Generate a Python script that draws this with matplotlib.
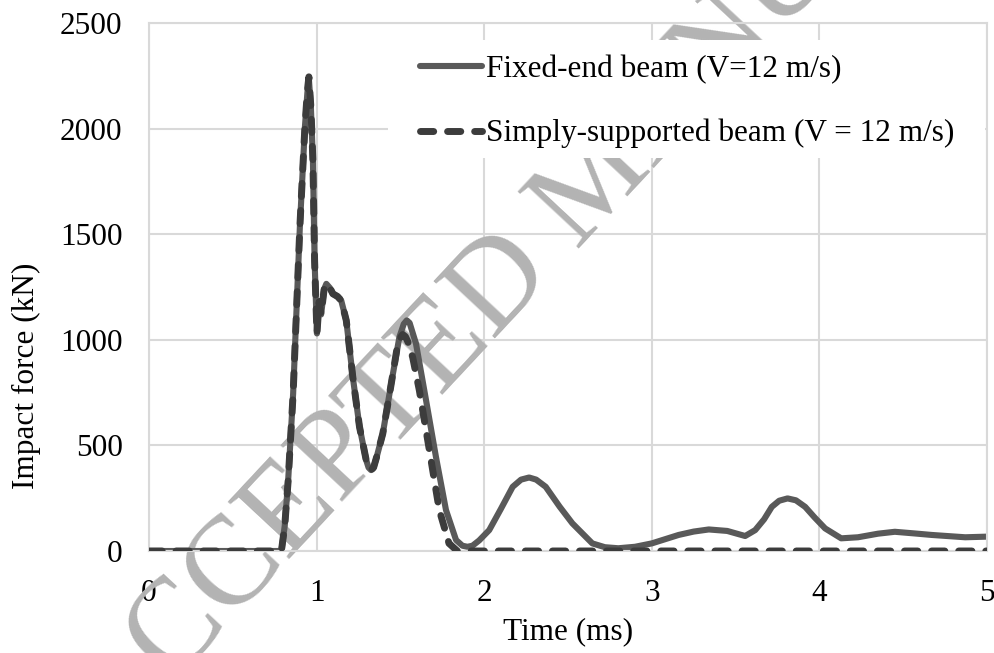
import matplotlib
matplotlib.use("Agg")
import matplotlib.pyplot as plt
from matplotlib.patches import Rectangle
from matplotlib.transforms import IdentityTransform

# Impact force histories (time in ms, force in kN)
t_fixed = [0.0, 0.79, 0.81, 0.83, 0.86, 0.90, 0.93, 0.945, 0.954, 0.966, 0.978,
           0.988, 1.002, 1.015, 1.027, 1.045, 1.058, 1.08, 1.097, 1.125, 1.147,
           1.177, 1.216, 1.256, 1.296, 1.31, 1.325, 1.34, 1.36, 1.395, 1.445,
           1.494, 1.52, 1.538, 1.555, 1.593, 1.653, 1.712, 1.772, 1.832, 1.87,
           1.90, 1.93, 1.97, 2.03, 2.10, 2.17, 2.22, 2.268, 2.31, 2.367, 2.45,
           2.526, 2.645, 2.72, 2.80, 2.90, 3.00, 3.16, 3.25, 3.34, 3.45, 3.557,
           3.617, 3.67, 3.716, 3.76, 3.81, 3.86, 3.915, 3.97, 4.034, 4.13, 4.23,
           4.35, 4.45, 4.57, 4.67, 4.87, 5.0]
f_fixed = [0, 0, 120, 330, 745, 1533, 2005, 2170, 2235, 2100, 1848,
           1375, 1030, 1180, 1120, 1240, 1265, 1245, 1218, 1205, 1186,
           1092, 824, 588, 430, 395, 383, 395, 450, 556, 792,
           1013, 1075, 1092, 1080, 982, 714, 446, 194, 52, 25,
           20, 25, 50, 99, 200, 304, 338, 348, 338, 304, 210,
           131, 36, 18, 13, 20, 36, 76, 92, 102, 95, 71,
           99, 150, 209, 238, 249, 240, 209, 160, 107, 60, 65,
           82, 91, 83, 76, 65, 68]

t_simple = [0.0, 0.79, 0.81, 0.83, 0.86, 0.90, 0.93, 0.945, 0.954, 0.966, 0.978,
            0.988, 1.002, 1.015, 1.027, 1.045, 1.058, 1.08, 1.097, 1.125, 1.147,
            1.177, 1.216, 1.256, 1.296, 1.31, 1.325, 1.34, 1.36, 1.395, 1.445,
            1.48, 1.50, 1.514, 1.53, 1.545, 1.573, 1.613, 1.673, 1.732, 1.79,
            1.84, 5.0]
f_simple = [0, 0, 120, 330, 745, 1533, 2005, 2180, 2245, 2100, 1848,
            1375, 1030, 1180, 1120, 1240, 1265, 1245, 1218, 1205, 1186,
            1092, 824, 588, 430, 395, 383, 395, 450, 556, 790,
            960, 1010, 1025, 1015, 990, 918, 761, 477, 194, 36,
            0, 0]

labels = ["Fixed-end beam (V=12 m/s)", "Simply-supported beam (V = 12 m/s)"]
x_ticks = [0, 1, 2, 3, 4, 5]
y_ticks = [0, 500, 1000, 1500, 2000, 2500]

plt.rcParams["font.family"] = ["Liberation Serif", "DejaVu Serif"]
FS = 22.5

fig = plt.figure(figsize=(9.95, 6.53), dpi=100)
ax = fig.add_axes([149 / 995, 1 - 551 / 653, (987 - 149) / 995, (551 - 23) / 653])

grid_c = "#d9d9d9"
ax.set_xlim(0, 5)
ax.set_ylim(0, 2500)
ax.set_xticks(x_ticks)
ax.set_yticks(y_ticks)
ax.set_xticklabels([str(v) for v in x_ticks], fontsize=FS)
ax.set_yticklabels([str(v) for v in y_ticks], fontsize=FS)
ax.tick_params(axis="x", length=0, pad=20)
ax.tick_params(axis="y", length=0, pad=19)
ax.grid(True, color=grid_c, linewidth=1.5)
ax.set_axisbelow(True)
for side, sp in ax.spines.items():
    sp.set_color(grid_c)
    sp.set_linewidth(1.5)

ax.set_xlabel("Time (ms)", fontsize=FS, labelpad=7)
ax.set_ylabel("Impact force (kN)", fontsize=FS)
ax.yaxis.set_label_coords(-0.129, 0.331)

# Watermark across the figure, under the curves and legend
ax.text(110, -98, "ACCEPTED MANUSCRIPT", transform=IdentityTransform(),
        rotation=47, rotation_mode="anchor", ha="left", va="baseline",
        fontsize=91, color="#b3b3b3", zorder=1.5, clip_on=False)

l1, = ax.plot(t_fixed, f_fixed, color="#595959", lw=4.4,
              solid_joinstyle="round", solid_capstyle="round", zorder=2.5,
              label=labels[0])
l2, = ax.plot(t_simple, f_simple, color="#3c3c3c", lw=5.0,
              linestyle=(0, (1.9, 2.0)), dash_capstyle="round",
              dash_joinstyle="round", zorder=3, label=labels[1])

# White legend panel
ax.add_patch(Rectangle((0.285, 0.744), 0.713, 0.224, transform=ax.transAxes,
                       facecolor="white", edgecolor="none", zorder=4,
                       clip_on=False))

leg = ax.legend(handles=[l1, l2], loc="upper left",
                bbox_to_anchor=(0.323, 0.940), fontsize=FS,
                frameon=False, handlelength=2.0, handletextpad=0.13,
                labelspacing=1.12, borderpad=0, borderaxespad=0)
leg.set_zorder(5)

fig.savefig("out.png", dpi=100, facecolor="white")
